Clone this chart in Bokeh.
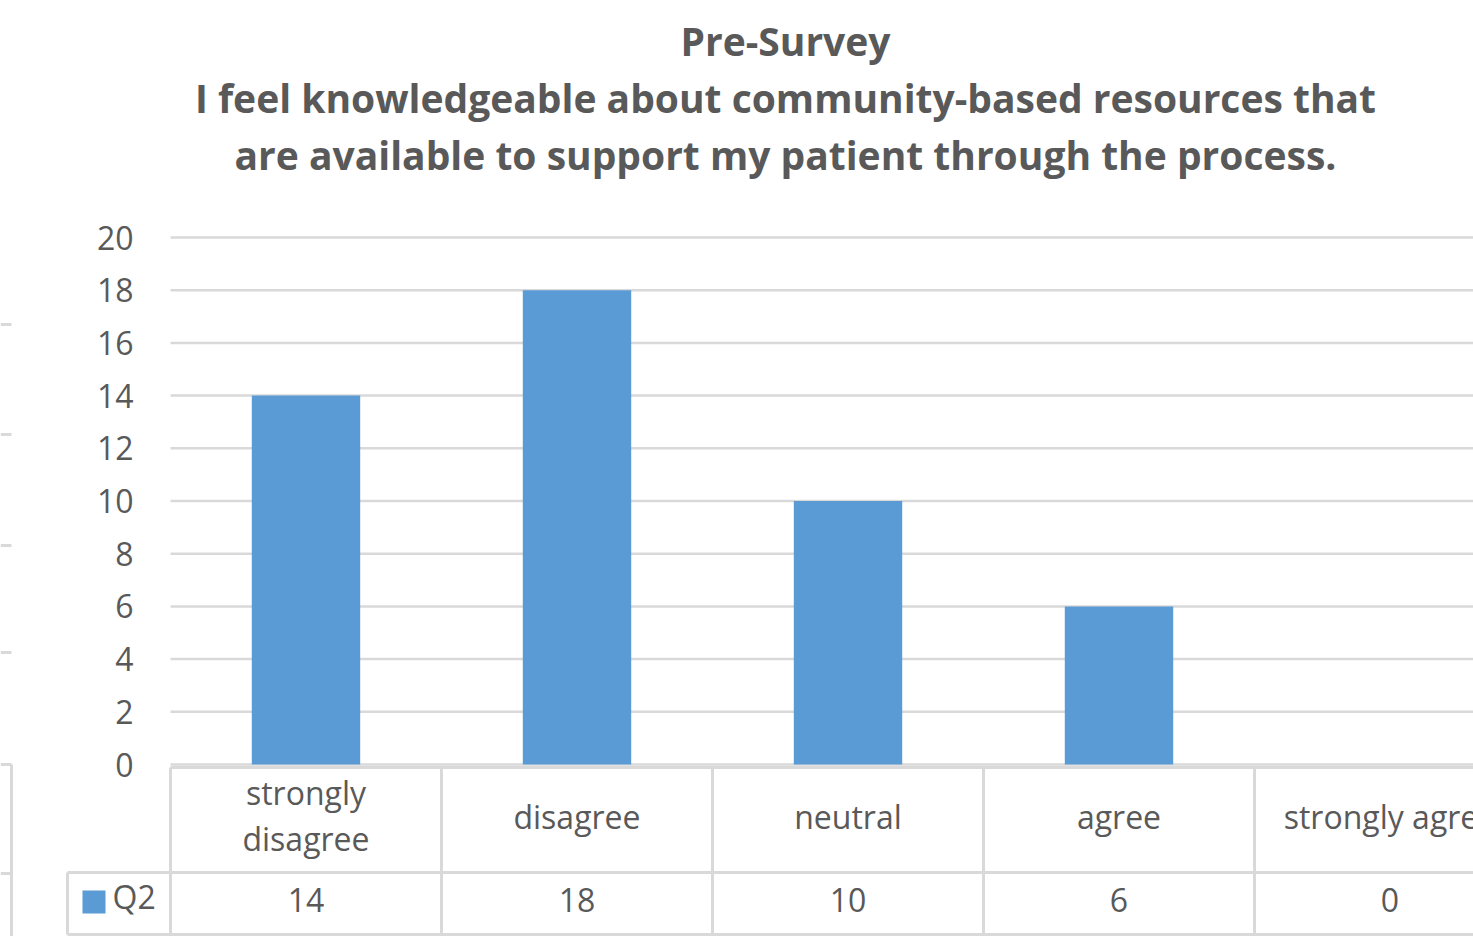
from bokeh.plotting import figure
from bokeh.models import ColumnDataSource, Range1d
from bokeh.core.properties import value
from bokeh.embed import file_html
from bokeh.resources import INLINE

# ---- data ----
categories = ["strongly disagree", "disagree", "neutral", "agree", "strongly agree"]
cat_labels = ["strongly\ndisagree", "disagree", "neutral", "agree", "strongly agree"]
q2_values = [14, 18, 10, 6, 0]
series_name = "Q2"
y_ticks = [0, 2, 4, 6, 8, 10, 12, 14, 16, 18, 20]
title_lines = [
    "Pre-Survey",
    "I feel knowledgeable about community-based resources that",
    "are available to support my patient through the process.",
]

# ---- layout helpers (pixel -> data) ----
X0_PX, CAT_W = 170, 271.0
Y0_PX, UNIT = 764, 26.35


def dx(px):
    return (px - X0_PX) / CAT_W


def dy(py):
    return (Y0_PX - py) / UNIT


TXT = "#595959"
GRID = "#D9D9D9"
BAR = "#5B9BD5"
FONT = "Open Sans"

p = figure(width=1473, height=936, output_backend="svg", toolbar_location=None,
           x_range=Range1d(dx(0), dx(1473)), y_range=Range1d(dy(936), dy(0)),
           min_border=0)
p.axis.visible = False
p.grid.visible = False
p.outline_line_color = None

n = len(categories)
xc = [i + 0.5 for i in range(n)]

# fragments of the neighbouring chart at the left edge
stub_y = [dy(324), dy(434), dy(545), dy(652), dy(764), dy(873)]
p.segment(x0=[dx(0)] * len(stub_y), x1=[dx(11)] * len(stub_y), y0=stub_y, y1=stub_y,
          line_color=GRID, line_width=3)
p.segment(x0=[dx(11)], x1=[dx(11)], y0=[dy(764)], y1=[dy(936)], line_color=GRID, line_width=3)

# gridlines
p.segment(x0=[0] * len(y_ticks), x1=[n] * len(y_ticks), y0=y_ticks, y1=y_ticks,
          line_color=GRID, line_width=2.5)

# bars
src = ColumnDataSource(dict(x=xc, top=q2_values, cat=categories))
p.vbar(x="x", top="top", width=0.4, bottom=0, source=src, fill_color=BAR, line_color=None)

# y tick labels
p.text(x=[dx(133)] * len(y_ticks), y=y_ticks, text=[str(t) for t in y_ticks],
       text_align="right", text_baseline="middle", text_color=TXT,
       text_font=value(FONT), text_font_size="32px")

# data table
top_y, mid_y, bot_y = dy(767), dy(872), dy(934)
left_x = dx(67)
p.segment(x0=[0, left_x, left_x], x1=[n, n, n], y0=[top_y, mid_y, bot_y], y1=[top_y, mid_y, bot_y],
          line_color=GRID, line_width=3)
p.segment(x0=list(range(n)) + [left_x], x1=list(range(n)) + [left_x],
          y0=[top_y] * n + [mid_y], y1=[bot_y] * n + [bot_y],
          line_color=GRID, line_width=3)

lx, ly, lt = [], [], []
for i, lab in enumerate(cat_labels):
    parts = lab.split("\n")
    if len(parts) == 1:
        lx.append(xc[i]); ly.append(dy(816)); lt.append(parts[0])
    else:
        for k, part in enumerate(parts):
            lx.append(xc[i]); ly.append(dy(792 + 46 * k)); lt.append(part)
p.text(x=lx, y=ly, text=lt, text_align="center", text_baseline="middle",
       text_color=TXT, text_font=value(FONT), text_font_size="32px")
p.text(x=xc, y=[dy(899)] * n, text=[str(v) for v in q2_values], text_align="center",
       text_baseline="middle", text_color=TXT, text_font=value(FONT), text_font_size="32px")

# legend key in table
p.rect(x=[dx(93.5)], y=[dy(901.5)], width=23 / CAT_W, height=23 / UNIT,
       fill_color=BAR, line_color=None)
p.text(x=[dx(112)], y=[dy(896)], text=[series_name], text_align="left", text_baseline="middle",
       text_color=TXT, text_font=value(FONT), text_font_size="32px")

# title
p.text(x=[dx(785)] * 3, y=[dy(40), dy(97), dy(154)], text=title_lines,
       text_align="center", text_baseline="middle", text_color=TXT,
       text_font=value(FONT), text_font_style="bold", text_font_size="39px")

open("out.html", "w").write(file_html(p, INLINE))
